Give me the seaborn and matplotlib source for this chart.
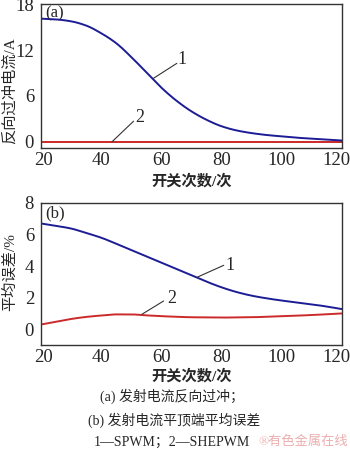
import numpy as np
import pandas as pd
import matplotlib
matplotlib.use("Agg")
import matplotlib.pyplot as plt
from matplotlib.transforms import ScaledTranslation
import seaborn as sns

# ---- data ----
switch_counts = [20, 25, 30, 35, 40, 45, 50, 55, 60, 65, 70, 75, 80, 85, 90, 95, 100, 105, 110, 115, 120]
overshoot_spwm = [16.1, 16.0, 15.75, 15.2, 14.2, 12.9, 11.1, 9.1, 7.1, 5.4, 4.0, 2.9, 2.05, 1.5, 1.15,
                  0.9, 0.72, 0.55, 0.42, 0.3, 0.18]
overshoot_shepwm = [0.0] * 21
error_spwm = [6.7, 6.55, 6.38, 6.1, 5.8, 5.42, 5.02, 4.62, 4.22, 3.82, 3.42, 3.02, 2.66, 2.36, 2.13,
              1.96, 1.82, 1.7, 1.58, 1.44, 1.28]
error_shepwm = [0.3, 0.47, 0.65, 0.78, 0.87, 0.94, 0.94, 0.88, 0.83, 0.79, 0.76, 0.75, 0.74, 0.75,
                0.76, 0.79, 0.82, 0.86, 0.9, 0.95, 1.0]

xticks = [20, 40, 60, 80, 100, 120]
yticks_a = [0, 6, 12, 18]
yticks_b = [0, 2, 4, 6, 8]

xlabel = "开关次数/次"
ylabel_a = "反向过冲电流/A"
ylabel_b = "平均误差/%"
captions = ["(a) 发射电流反向过冲；", "(b) 发射电流平顶端平均误差", "1—SPWM；2—SHEPWM"]
watermark = "®有色金属在线"

sns.set_theme(style="white")
FAM = ["Liberation Serif", "Noto Sans CJK SC", "DejaVu Sans"]
plt.rcParams["font.family"] = FAM

BLUE = "#1c1c96"
RED = "#cc2a2a"

fig = plt.figure(figsize=(3.5, 4.54), dpi=100)
ax1 = fig.add_axes([0.117, 0.674, 0.859, 0.317])
ax2 = fig.add_axes([0.117, 0.240, 0.859, 0.313])


def smooth(x, y):
    xs = np.linspace(min(x), max(x), 401)
    x = np.asarray(x, float); y = np.asarray(y, float)
    h = np.diff(x); d = np.diff(y) / h
    m = np.zeros_like(y)
    for k in range(1, len(x) - 1):
        if d[k - 1] * d[k] <= 0:
            m[k] = 0
        else:
            w1 = 2 * h[k] + h[k - 1]; w2 = h[k] + 2 * h[k - 1]
            m[k] = (w1 + w2) / (w1 / d[k - 1] + w2 / d[k])
    m[0] = d[0]; m[-1] = d[-1]
    idx = np.clip(np.searchsorted(x, xs) - 1, 0, len(x) - 2)
    t = (xs - x[idx]) / h[idx]
    h00 = 2 * t**3 - 3 * t**2 + 1; h10 = t**3 - 2 * t**2 + t
    h01 = -2 * t**3 + 3 * t**2; h11 = t**3 - t**2
    ys = h00 * y[idx] + h10 * h[idx] * m[idx] + h01 * y[idx + 1] + h11 * h[idx] * m[idx + 1]
    return xs, ys


def draw(ax, s1, s2):
    for vals, col in [(s2, RED), (s1, BLUE)]:
        xs, ys = smooth(switch_counts, vals)
        df = pd.DataFrame({"x": xs, "y": ys})
        sns.lineplot(data=df, x="x", y="y", ax=ax, color=col, lw=1.4)


draw(ax1, overshoot_spwm, overshoot_shepwm)
draw(ax2, error_spwm, error_shepwm)

for ax, yt, ylim, ylab, ly in [(ax1, yticks_a, (-0.8, 18), ylabel_a, 0.40),
                               (ax2, yticks_b, (-1, 8), ylabel_b, 0.514)]:
    ax.set_xlim(20, 120)
    ax.set_ylim(*ylim)
    ax.set_xticks(xticks)
    ax.set_yticks(yt)
    ax.set_xticklabels([str(v) for v in xticks], family=FAM, fontsize=13.5)
    ax.set_yticklabels([str(v) for v in yt], family=FAM, fontsize=13.5)
    ax.tick_params(axis="x", direction="in", length=3, width=0.8, pad=3, color="#333333")
    ax.tick_params(axis="y", direction="out", length=3, width=0.8, pad=2, color="#333333")
    for sp in ax.spines.values():
        sp.set_color("#333333")
        sp.set_linewidth(1.0)
    ax.set_xlabel(xlabel, family=FAM, fontsize=11, fontweight="bold")
    ax.set_ylabel(ylab, family=FAM, fontsize=11)
    ax.yaxis.set_label_coords(-0.08, ly)
    labs = ax.get_xticklabels()
    labs[0].set_transform(labs[0].get_transform() + ScaledTranslation(3 / 100, 0, fig.dpi_scale_trans))
    labs[-1].set_transform(labs[-1].get_transform() + ScaledTranslation(-5 / 100, 0, fig.dpi_scale_trans))

ax1.xaxis.set_label_coords(0.5, -0.18)
ax2.xaxis.set_label_coords(0.5, -0.17)

ax1.text(0.013, 0.99, "(a)", transform=ax1.transAxes, ha="left", va="top", family=FAM, fontsize=12)
ax2.text(0.013, 0.985, "(b)", transform=ax2.transAxes, ha="left", va="top", family=FAM, fontsize=12)

# leader lines & curve labels
ann = dict(family=FAM, fontsize=13)
ax1.plot([57.4, 65.2], [8.3, 10.26], color="#333333", lw=0.8)
ax1.text(66.9, 10.7, "1", ha="center", va="center", **ann)
ax1.plot([43.6, 50.8], [0, 2.7], color="#333333", lw=0.8)
ax1.text(53.0, 3.2, "2", ha="center", va="center", **ann)
ax2.plot([71.9, 80.8], [3.29, 4.05], color="#333333", lw=0.8)
ax2.text(82.8, 4.05, "1", ha="center", va="center", **ann)
ax2.plot([53.6, 60.8], [0.95, 1.79], color="#333333", lw=0.8)
ax2.text(63.5, 1.95, "2", ha="center", va="center", **ann)

# captions
fig.text(0.492, 0.128, captions[0], ha="center", va="center", family=FAM, fontsize=10)
fig.text(0.497, 0.075, captions[1], ha="center", va="center", family=FAM, fontsize=10)
fig.text(0.49, 0.026, captions[2], ha="center", va="center", family=FAM, fontsize=10)
fig.text(0.995, 0.026, watermark, ha="right", va="center", family=FAM, fontsize=9.5,
         color="#e07a7a", alpha=0.6)

fig.savefig("out.png", dpi=100)
